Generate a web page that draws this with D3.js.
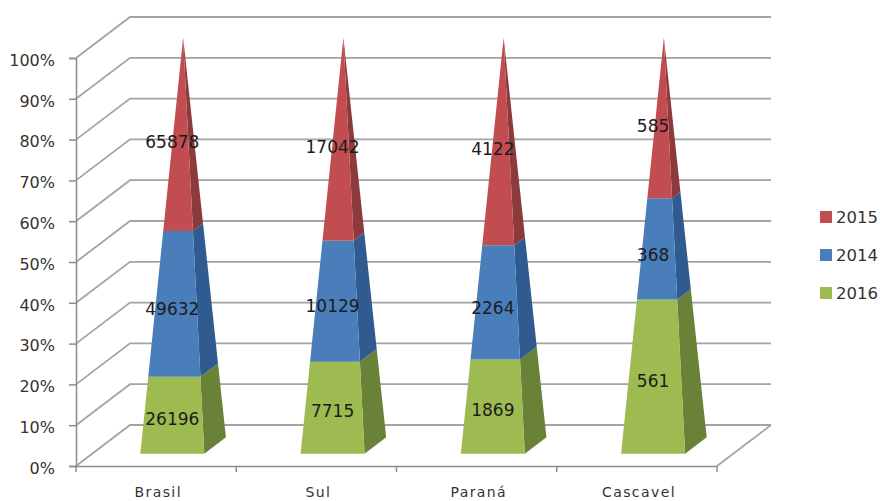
<!DOCTYPE html>
<html>
<head>
<meta charset="utf-8">
<script src="https://cdn.jsdelivr.net/npm/d3@7"></script>
<style>
  html, body { margin: 0; padding: 0; background: #fff; }
  text { font-family: "DejaVu Sans", sans-serif; fill: #333; }
  .axis path, .axis line { stroke: #8c8c8c; stroke-width: 1.5; }
  .axis text { font-size: 16px; }
  .grid { stroke: #a4a4a4; stroke-width: 1.8; fill: none; }
  .value { font-size: 17px; fill: #1c1c1c; text-anchor: middle; }
  .legend text { font-size: 16.5px; }
</style>
</head>
<body>
<div id="chart"></div>
<script>
const categories = ['Brasil', 'Sul', 'Paraná', 'Cascavel'];
const years = ['2016', '2014', '2015'];     // stacking order, bottom to top
const legendYears = ['2015', '2014', '2016'];
const values2016 = [26196, 7715, 1869, 561];
const values2014 = [49632, 10129, 2264, 368];
const values2015 = [65878, 17042, 4122, 585];
const percentTicks = [0, 0.1, 0.2, 0.3, 0.4, 0.5, 0.6, 0.7, 0.8, 0.9, 1];

const width = 880, height = 501;
const depthX = 54, depthY = 41;     // how far the back wall is shifted from the front
const halfBase = 32;                // half width of a pyramid's base

const colors = {
	'2015': { front: '#c24d50', side: '#8c3a3c' },
	'2014': { front: '#4a7ebb', side: '#2f5b90' },
	'2016': { front: '#9dbb50', side: '#6a8238' }
};

const rows = categories.map((c, i) => ({
	category: c,
	'2016': values2016[i],
	'2014': values2014[i],
	'2015': values2015[i]
}));

const series = d3.stack().keys(years).offset(d3.stackOffsetExpand)(rows);

const x = d3.scaleBand().domain(categories).range([76, 717]);
const y = d3.scaleLinear().domain([0, 1]).range([466, 58]);

const svg = d3.select('#chart')
	.append('svg')
	.attr('width', width)
	.attr('height', height)
	.style('display', 'block');

// back wall gridlines plus the slanted lines on the left wall
const grid = svg.append('g');
percentTicks.forEach((t) => {
	grid.append('path')
		.attr('class', 'grid')
		.attr('d', d3.line()([
			[x.range()[0], y(t)],
			[x.range()[0] + depthX, y(t) - depthY],
			[x.range()[1] + depthX, y(t) - depthY]
		]));
});

// right edge of the floor
grid.append('path')
	.attr('class', 'grid')
	.attr('d', d3.line()([
		[x.range()[1], y(0)],
		[x.range()[1] + depthX, y(0) - depthY]
	]));

const yAxis = d3.axisLeft(y)
	.tickValues(percentTicks)
	.tickFormat(d3.format('.0%'))
	.tickSize(7)
	.tickPadding(14);

svg.append('g')
	.attr('class', 'axis')
	.attr('transform', `translate(${x.range()[0]},0)`)
	.call(yAxis)
	.call((g) => g.selectAll('text').attr('dy', '0.45em'));

const xAxis = d3.axisBottom(x).tickSize(0).tickPadding(21.5);

const xAxisG = svg.append('g')
	.attr('class', 'axis')
	.attr('transform', `translate(0,${y(0)})`)
	.call(xAxis);

xAxisG.selectAll('text')
	.attr('dx', '0.15em')
	.style('font-size', '14px')
	.style('letter-spacing', '1.4px');

// category ticks sit between the bands
xAxisG.selectAll('.boundary')
	.data(d3.range(categories.length + 1))
	.enter()
	.append('line')
	.attr('class', 'boundary')
	.attr('x1', (d) => x.range()[0] + d * x.step())
	.attr('x2', (d) => x.range()[0] + d * x.step())
	.attr('y1', 0)
	.attr('y2', 6);

// a point on the pyramid: u is -1..1 across its width, z -1..1 into the depth
const project = (category, u, z, t) => {
	const shrink = 1 - t;
	const px = x(category) + x.bandwidth() / 2 + u * halfBase * shrink;
	const pz = 0.5 + z * 0.2 * shrink;
	return [px + depthX * pz, y(t) - depthY * pz];
};

series.forEach((layer) => {
	const year = layer.key;
	const g = svg.append('g').attr('class', `series-${year}`);

	g.selectAll('path.side')
		.data(layer)
		.enter()
		.append('path')
		.attr('class', 'side')
		.attr('fill', colors[year].side)
		.attr('d', (d) => {
			const c = d.data.category;
			return d3.line()([
				project(c, 1, -1, d[0]),
				project(c, 1, 1, d[0]),
				project(c, 1, 1, d[1]),
				project(c, 1, -1, d[1])
			]) + 'Z';
		});

	g.selectAll('path.front')
		.data(layer)
		.enter()
		.append('path')
		.attr('class', 'front')
		.attr('fill', colors[year].front)
		.attr('d', (d) => {
			const c = d.data.category;
			return d3.line()([
				project(c, -1, -1, d[0]),
				project(c, 1, -1, d[0]),
				project(c, 1, -1, d[1]),
				project(c, -1, -1, d[1])
			]) + 'Z';
		});
});

// value labels go on top of every pyramid, sinking a little more the higher they sit
series.forEach((layer) => {
	svg.append('g')
		.selectAll('text')
		.data(layer)
		.enter()
		.append('text')
		.attr('class', 'value')
		.attr('x', (d) => project(d.data.category, 0, -1, 0)[0])
		.attr('y', (d) => {
			const mid = (d[0] + d[1]) / 2;
			return project(d.data.category, 0, -1, mid)[1] + 3 + 6 * mid;
		})
		.attr('dy', '0.35em')
		.text((d) => d.data[layer.key]);
});

const legendY = d3.scalePoint().domain(legendYears).range([217, 293]);

const legend = svg.append('g')
	.attr('class', 'legend')
	.selectAll('g')
	.data(legendYears)
	.enter()
	.append('g')
	.attr('transform', (d) => `translate(820,${legendY(d)})`);

legend.append('rect')
	.attr('y', -6)
	.attr('width', 12)
	.attr('height', 12)
	.attr('fill', (d) => colors[d].front);

legend.append('text')
	.attr('x', 16)
	.attr('dy', '0.35em')
	.text((d) => d);
</script>
</body>
</html>
